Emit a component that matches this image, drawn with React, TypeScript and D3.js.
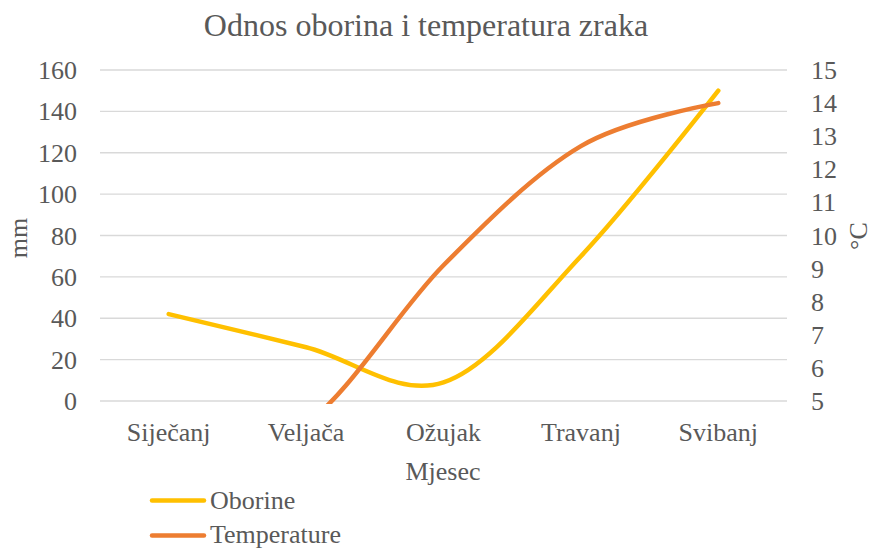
import React from 'react';
import * as d3 from 'd3';

const months = ['Siječanj', 'Veljača', 'Ožujak', 'Travanj', 'Svibanj'];
const oborine = [42, 26, 9, 70, 150];
const temperature = [3, 4.3, 9.1, 12.7, 14];
const mmTicks = [0, 20, 40, 60, 80, 100, 120, 140, 160];
const tempTicks = [5, 6, 7, 8, 9, 10, 11, 12, 13, 14, 15];

const W = 872, H = 548;
const left = 100, right = 787, top = 70, bottom = 401;
const textColor = '#595959';
const font = '"Liberation Serif", "Times New Roman", serif';

const App = () => {
  const x = d3.scalePoint<string>().domain(months).range([left, right]).padding(0.5);
  const yL = d3.scaleLinear().domain([0, 160]).range([bottom, top]);
  const yR = d3.scaleLinear().domain([5, 15]).range([bottom, top]);

  const lineL = d3.line<number>()
    .x((_, i) => x(months[i])!)
    .y(d => yL(d))
    .curve(d3.curveCardinal.tension(0));
  const lineR = d3.line<number>()
    .x((_, i) => x(months[i])!)
    .y(d => yR(d))
    .curve(d3.curveCardinal.tension(0));

  return (
    <svg width={W} height={H} style={{ position: 'absolute', left: 0, top: 0, background: '#fff' }}
      fontFamily={font}>
      <defs>
        <clipPath id="plot">
          <rect x={left - 10} y={top - 10} width={right - left + 20} height={bottom - top + 13} />
        </clipPath>
      </defs>
      <text x={426} y={36} textAnchor="middle" fontSize={32} fill={textColor}>
        Odnos oborina i temperatura zraka
      </text>

      {/* grid + left ticks */}
      {mmTicks.map(t => (
        <g key={t}>
          <line x1={left} x2={right} y1={yL(t)} y2={yL(t)} stroke="#d9d9d9" strokeWidth={1.3} />
          <text x={77} y={yL(t) + 9} textAnchor="end" fontSize={26} fill={textColor}>{t}</text>
        </g>
      ))}
      {tempTicks.map(t => (
        <text key={t} x={811} y={yR(t) + 9} fontSize={26} fill={textColor}>{t}</text>
      ))}

      {months.map(m => (
        <text key={m} x={x(m)} y={441} textAnchor="middle" fontSize={26} fill={textColor}>{m}</text>
      ))}
      <text x={443} y={480} textAnchor="middle" fontSize={26} fill={textColor}>Mjesec</text>
      <text transform="translate(27,238) rotate(-90)" textAnchor="middle" fontSize={26} fill={textColor}>mm</text>
      <text transform="translate(867,236) rotate(-90)" textAnchor="middle" fontSize={26} fill={textColor}>°C</text>

      <g clipPath="url(#plot)" fill="none" strokeWidth={4.5} strokeLinecap="round">
        <path d={lineL(oborine) ?? ''} stroke="#FFC000" />
        <path d={lineR(temperature) ?? ''} stroke="#ED7D31" />
      </g>

      {/* legend */}
      <line x1={152} x2={204} y1={500.5} y2={500.5} stroke="#FFC000" strokeWidth={4.5} strokeLinecap="round" />
      <text x={210} y={509} fontSize={26} fill={textColor}>Oborine</text>
      <line x1={152} x2={204} y1={535.5} y2={535.5} stroke="#ED7D31" strokeWidth={4.5} strokeLinecap="round" />
      <text x={210} y={543} fontSize={26} fill={textColor}>Temperature</text>
    </svg>
  );
};

export default App;
